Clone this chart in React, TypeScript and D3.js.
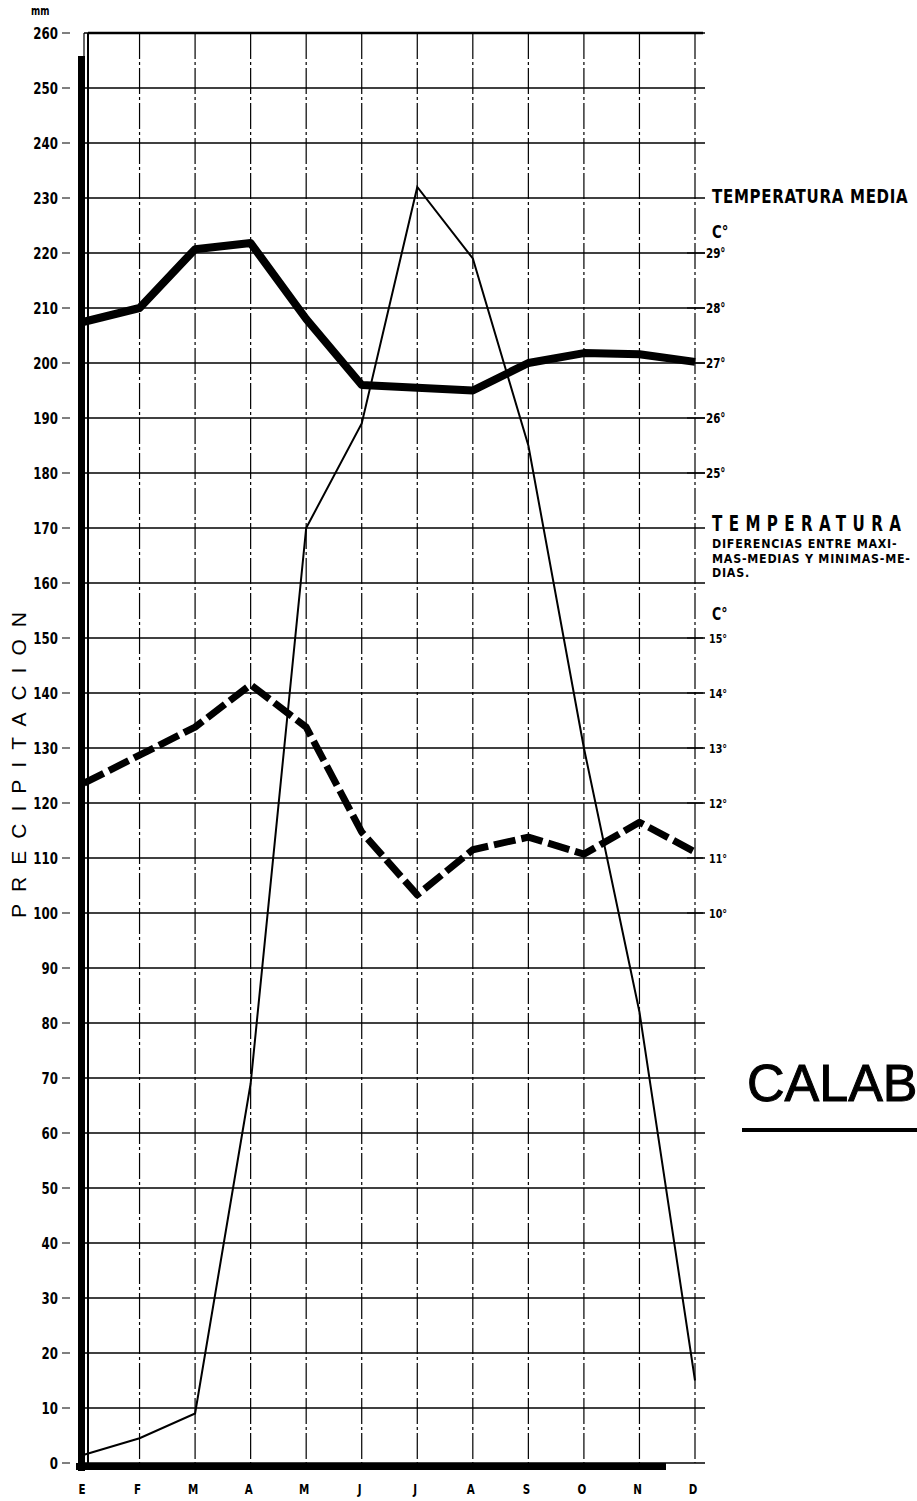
import * as d3 from "d3";

// Climograma: precipitación mensual (mm) y temperaturas (°C)
const months = ["E", "F", "M", "A", "M", "J", "J", "A", "S", "O", "N", "D"];
const precipitacion = [1.5, 4.5, 9, 69, 170, 189, 232, 219, 185, 130, 82, 15];
const tempMedia = [27.75, 28.0, 29.07, 29.18, 27.8, 26.6, 26.55, 26.5, 27.0, 27.18, 27.16, 27.02];
const tempDiferencias = [12.36, 12.87, 13.38, 14.15, 13.38, 11.47, 10.33, 11.15, 11.38, 11.07, 11.65, 11.11];
const mmTicks = [0, 10, 20, 30, 40, 50, 60, 70, 80, 90, 100, 110, 120, 130, 140, 150, 160, 170, 180, 190, 200, 210, 220, 230, 240, 250, 260];
const mediaTicks = [25, 26, 27, 28, 29];
const difTicks = [10, 11, 12, 13, 14, 15];

const W = 917;
const H = 1501;
const FONT = "'DejaVu Sans Condensed', 'Liberation Sans Narrow', sans-serif";

// narrow lettering: compress text horizontally
function Narrow(props: { x: number; y: number; size: number; anchor?: string; sx?: number; spacing?: number; children: any }) {
  const sx = props.sx ?? 0.82;
  return (
    <text
      transform={`translate(${props.x},${props.y}) scale(${sx},1)`}
      textAnchor={props.anchor || "start"}
      fontFamily={FONT}
      fontWeight="bold"
      fontSize={props.size}
      letterSpacing={props.spacing || 0}
      fill="#000"
    >
      {props.children}
    </text>
  );
}

export default function App() {
  const idx = months.map((_, i) => i);
  const x = d3.scaleLinear().domain([0, 11]).range([84, 695]);
  const y = d3.scaleLinear().domain([0, 260]).range([1463, 33]);
  // escala derecha superior: 27° = 200 mm, 1° = 10 mm
  const yMedia = d3.scaleLinear().domain([27, 29]).range([y(200), y(220)]);
  // escala derecha inferior: 10° = 100 mm
  const yDif = d3.scaleLinear().domain([10, 15]).range([y(100), y(150)]);

  const linePrec = d3.line<number>().x((i) => x(i)).y((i) => y(precipitacion[i]));
  const lineMedia = d3.line<number>().x((i) => x(i)).y((i) => yMedia(tempMedia[i]));
  const lineDif = d3.line<number>().x((i) => x(i)).y((i) => yDif(tempDiferencias[i]));

  const x0 = x(0);
  const x1 = x(11);
  const yTop = y(260);
  const yBot = y(0);

  return (
    <svg width={W} height={H} style={{ position: "absolute", left: 0, top: 0, background: "#fff" }}>
      <rect width={W} height={H} fill="#fff" />

      {/* horizontal grid */}
      {mmTicks.map((t) => (
        <g key={"h" + t}>
          <line x1={x0} x2={x1 + 10} y1={y(t)} y2={y(t)} stroke="#000" strokeWidth={1.4} />
          <line x1={62} x2={70} y1={y(t)} y2={y(t)} stroke="#000" strokeWidth={1} />
          <Narrow x={58} y={y(t) + 5.5} size={16} anchor="end">
            {t}
          </Narrow>
        </g>
      ))}

      {/* vertical grid (month lines) */}
      {idx.map((i) => (
        <line
          key={"v" + i}
          x1={x(i)}
          x2={x(i)}
          y1={yTop}
          y2={yBot}
          stroke="#000"
          strokeWidth={1.2}
          strokeDasharray="26,3,3,3"
        />
      ))}

      {/* frame */}
      <line x1={x0 + 4} x2={x1 + 8} y1={yTop} y2={yTop} stroke="#000" strokeWidth={2.5} />
      <line x1={x0 + 4} x2={x0 + 4} y1={yTop} y2={yBot} stroke="#000" strokeWidth={2} />
      <rect x={x0 - 6} y={56} width={7} height={yBot - 56 + 8} fill="#000" />
      <rect x={x0 - 8} y={yBot} width={590} height={7} fill="#000" />

      {/* mm label */}
      <Narrow x={31} y={15} size={12}>
        mm
      </Narrow>

      {/* PRECIPITACION */}
      <text
        transform={`translate(20, ${y(128)}) rotate(-90)`}
        textAnchor="middle"
        dominantBaseline="middle"
        fontFamily="'Liberation Sans', Arial, sans-serif"
        fontSize={21}
        letterSpacing={12}
        fill="#000"
      >
        PRECIPITACION
      </text>

      {/* right ticks - temperatura media */}
      {mediaTicks.map((t) => (
        <g key={"m" + t}>
          <line x1={x1 - 8} x2={x1 + 10} y1={yMedia(t)} y2={yMedia(t)} stroke="#000" strokeWidth={1.2} />
          <Narrow x={x1 + 11} y={yMedia(t) + 5} size={14}>
            {t + "°"}
          </Narrow>
        </g>
      ))}
      <Narrow x={712} y={203} size={19} sx={0.88} spacing={0.8}>
        TEMPERATURA MEDIA
      </Narrow>
      <Narrow x={712} y={238} size={18}>
        C°
      </Narrow>

      {/* right ticks - diferencias */}
      {difTicks.map((t) => (
        <g key={"d" + t}>
          <line x1={x1 - 8} x2={x1 + 8} y1={yDif(t)} y2={yDif(t)} stroke="#000" strokeWidth={1.2} />
          <Narrow x={x1 + 14} y={yDif(t) + 5} size={13}>
            {t + "°"}
          </Narrow>
        </g>
      ))}
      <Narrow x={712} y={531} size={21} sx={0.8} spacing={8}>
        TEMPERATURA
      </Narrow>
      {["DIFERENCIAS ENTRE MAXI-", "MAS-MEDIAS Y MINIMAS-ME-", "DIAS."].map((s, i) => (
        <Narrow key={s} x={712} y={548 + i * 14.5} size={13} sx={0.95} spacing={0.8}>
          {s}
        </Narrow>
      ))}
      <Narrow x={712} y={620} size={17}>
        C°
      </Narrow>

      {/* series */}
      <path d={linePrec(idx) || ""} fill="none" stroke="#000" strokeWidth={2} strokeLinejoin="miter" />
      <path d={lineMedia(idx) || ""} fill="none" stroke="#000" strokeWidth={8} strokeLinejoin="round" />
      <path
        d={lineDif(idx) || ""}
        fill="none"
        stroke="#000"
        strokeWidth={7}
        strokeDasharray="22,6"
        strokeLinejoin="round"
      />

      {/* month labels */}
      {idx.map((i) => (
        <Narrow key={"l" + i} x={x(i) - 2} y={1494} size={14} anchor="middle">
          {months[i]}
        </Narrow>
      ))}

      {/* station name */}
      <text
        x={747}
        y={1101}
        fontFamily="'Liberation Sans', Arial, sans-serif"
        fontSize={52}
        stroke="#000"
        strokeWidth={1}
        fill="#000"
      >
        CALAB
      </text>
      <rect x={742} y={1128} width={175} height={4} fill="#000" />
    </svg>
  );
}
